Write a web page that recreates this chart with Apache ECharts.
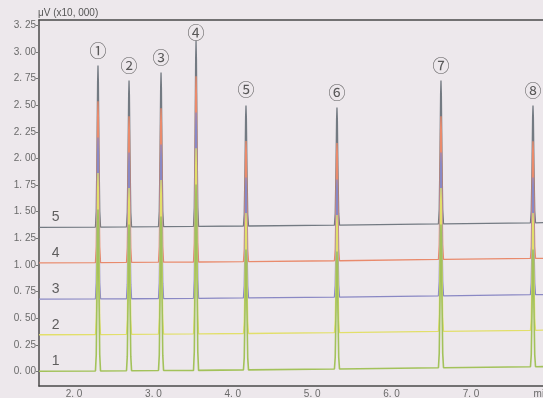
<!DOCTYPE html>
<html>
<head>
<meta charset="utf-8">
<script src="https://cdn.jsdelivr.net/npm/echarts@6/dist/echarts.min.js"></script>
<style>html,body{margin:0;padding:0;background:#ede8ec;}#c{width:543px;height:398px;}</style>
</head>
<body>
<div id="c"></div>
<script>
// ---- data ----
const peakTimes   = [2.302, 2.693, 3.096, 3.537, 4.166, 5.312, 6.622, 7.781];
const peakHeights = [1.516, 1.373, 1.446, 1.744, 1.131, 1.104, 1.345, 1.100];
const peakNames   = ['①','②','③','④','⑤','⑥','⑦','⑧'];
const traceNames  = ['1','2','3','4','5'];
const traceOffsets = [0.003, 0.345, 0.679, 1.020, 1.354];
// baseline drift at start, at each peak, and at end
const driftTimes  = [1.56, 2.302, 2.693, 3.096, 3.537, 4.166, 5.312, 6.622, 7.781, 7.91];
const driftValues = [0.000, 0.002, 0.004, 0.006, 0.008, 0.012, 0.020, 0.032, 0.042, 0.043];
const yTickValues = [0, 0.25, 0.5, 0.75, 1, 1.25, 1.5, 1.75, 2, 2.25, 2.5, 2.75, 3, 3.25];
const yTickLabels = ['0. 00','0. 25','0. 50','0. 75','1. 00','1. 25','1. 50','1. 75','2. 00','2. 25','2. 50','2. 75','3. 00','3. 25'];
const xTickValues = [2, 3, 4, 5, 6, 7];
const xTickLabels = ['2. 0','3. 0','4. 0','5. 0','6. 0','7. 0'];
const xUnit = 'min';
const yUnit = 'μV (x10, 000)';

// ---- styles ----
const colors = ['#a3c25a', '#e2df6a', '#8a88c4', '#e98a6c', '#737a82'];
// narrow peak template: [time offset, fraction of height]
const shape = [[-0.032,0],[-0.022,0.1],[-0.012,0.5],[-0.005,0.9],[0,1],[0.005,0.9],[0.012,0.5],[0.022,0.1],[0.032,0]];

function buildTrace(i) {
  const pts = [];
  const off = traceOffsets[i];
  pts.push([driftTimes[0], off + driftValues[0]]);
  peakTimes.forEach((t, k) => {
    const b = off + driftValues[k + 1];
    shape.forEach(([dt, f]) => pts.push([t + dt, b + f * peakHeights[k]]));
  });
  pts.push([driftTimes[driftTimes.length - 1], off + driftValues[driftValues.length - 1]]);
  return pts;
}

const series = [];
for (let i = traceNames.length - 1; i >= 0; i--) {
  series.push({
    type: 'line', name: traceNames[i], data: buildTrace(i),
    showSymbol: false, symbol: 'none', animation: false,
    lineStyle: { color: colors[i], width: i === 0 ? 1.6 : 1.3 },
    z: 10 - i
  });
}
// trace number labels on the left
series.push({
  type: 'scatter', symbolSize: 0, animation: false, silent: true,
  data: traceNames.map((n, i) => ({ value: [1.77, traceOffsets[i]], name: n })),
  label: { show: true, position: 'top', distance: 3, formatter: p => p.name,
           color: '#3a3a3a', fontSize: 14, fontFamily: 'Liberation Sans' },
  z: 20
});
// circled peak labels above the top trace
const topOffset = traceOffsets[traceOffsets.length - 1];
series.push({
  type: 'scatter', symbolSize: 0, animation: false, silent: true,
  data: peakTimes.map((t, k) => ({
    value: [t, topOffset + driftValues[k + 1] + peakHeights[k]], name: peakNames[k],
    label: { distance: k === 3 ? 0 : 7 }
  })),
  label: { show: true, position: 'top', formatter: p => p.name,
           color: '#333', fontSize: 17, fontFamily: 'Noto Sans CJK JP' },
  z: 20
});

const chart = echarts.init(document.getElementById('c'), null, { renderer: 'canvas' });
chart.setOption({
  backgroundColor: '#ede8ec',
  animation: false,
  grid: { left: 39, right: 0, top: 20, bottom: 12, containLabel: false, outerBoundsMode: 'none' },
  xAxis: [{
    type: 'value', min: 1.559, max: 7.907,
    axisLine: { show: true, onZero: false, lineStyle: { color: '#4a4a4a', width: 1.5 } },
    axisTick: { show: false },
    splitLine: { show: false },
    axisLabel: {
      customValues: xTickValues.concat([7.89]),
      formatter: v => { const k = xTickValues.indexOf(v); return k >= 0 ? xTickLabels[k] : xUnit; },
      color: '#6a6a6a', fontSize: 10, margin: 3, fontFamily: 'Liberation Sans'
    }
  }, {
    type: 'value', position: 'top', min: 1.559, max: 7.907,
    axisLine: { show: true, onZero: false, lineStyle: { color: '#4a4a4a', width: 1.5 } },
    axisTick: { show: false }, axisLabel: { show: false }, splitLine: { show: false }
  }],
  yAxis: {
    type: 'value', min: -0.136, max: 3.30,
    name: yUnit, nameLocation: 'end', nameGap: 2,
    nameTextStyle: { align: 'left', color: '#555', fontSize: 10, fontFamily: 'Liberation Sans', padding: [0,0,0,-1] },
    axisLine: { show: true, onZero: false, lineStyle: { color: '#4a4a4a', width: 1.5 } },
    axisTick: { show: true, inside: false, length: 3, customValues: yTickValues, lineStyle: { color: '#777' } },
    splitLine: { show: false },
    axisLabel: {
      customValues: yTickValues,
      formatter: v => { const k = yTickValues.indexOf(v); return k >= 0 ? yTickLabels[k] : ''; },
      color: '#6a6a6a', fontSize: 10, margin: 3, fontFamily: 'Liberation Sans'
    }
  },
  series: series
});
</script>
</body>
</html>
